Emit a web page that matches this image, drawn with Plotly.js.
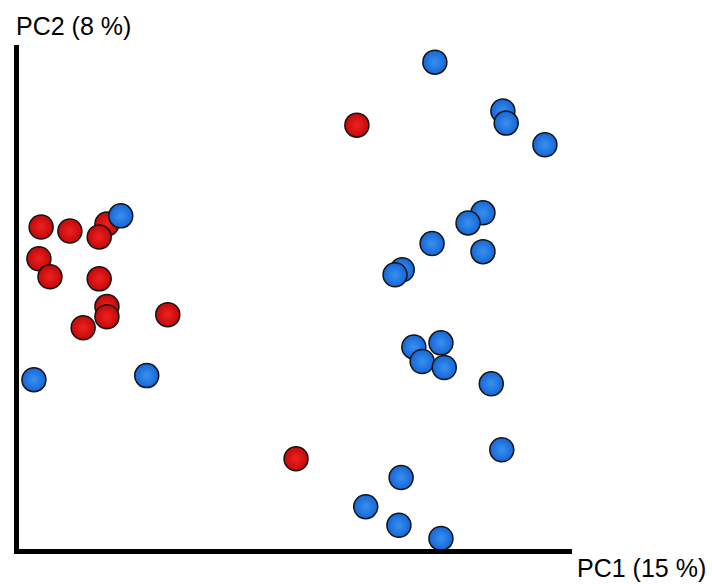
<!DOCTYPE html>
<html>
<head>
<meta charset="utf-8">
<script src="https://cdn.plot.ly/plotly-3.0.1.min.js"></script>
<style>html,body{margin:0;padding:0;background:#fff;}#chart{width:712px;height:584px;}</style>
</head>
<body>
<div id="chart"></div>
<script>
// PC scores (arbitrary units)
var redPC1 = [61.1, 4.0, 9.2, 15.9, 14.5, 3.6, 5.6, 14.5, 15.9, 15.9, 11.6, 26.9, 50.1];
var redPC2 = [84.1, 63.9, 63.1, 64.5, 61.9, 57.6, 54.0, 53.6, 48.1, 46.1, 43.9, 46.5, 17.9];

var bluePC1 = [75.2, 87.5, 88.1, 95.1, 83.9, 81.2, 74.7, 83.9, 69.3, 68.0,
               18.4, 2.7, 23.1, 71.4, 76.3, 72.9, 76.9, 85.4, 87.3, 69.1, 62.7, 68.7, 76.3];
var bluePC2 = [96.6, 86.9, 84.5, 80.2, 66.7, 64.7, 60.6, 59.0, 55.4, 54.4,
               66.1, 33.6, 34.4, 40.1, 40.9, 37.2, 36.0, 32.8, 19.7, 14.2, 8.4, 4.7, 2.1];

var axisTitleX = 'PC1 (15 %)';
var axisTitleY = 'PC2 (8 %)';

var W = 712, H = 584;
var L = 19, R = 572, T = 45, B = 549.5;

function mk(fill, center) {
  return {
    size: 24,
    color: fill,
    gradient: {type: 'radial', color: center},
    line: {color: '#141414', width: 1.5},
    opacity: 1
  };
}

var data = [
  {x: redPC1, y: redPC2, type: 'scatter', mode: 'markers', name: 'red',
   marker: mk('#c20808', '#ee2222'), hoverinfo: 'x+y'},
  {x: bluePC1, y: bluePC2, type: 'scatter', mode: 'markers', name: 'blue',
   marker: mk('#1466d6', '#3a90f0'), hoverinfo: 'x+y'}
];

var axisCommon = {
  showgrid: false, zeroline: false, showticklabels: false, ticks: '',
  showline: true, linecolor: '#000', linewidth: 5, fixedrange: true
};

var layout = {
  width: W, height: H,
  margin: {l: L, r: W - R, t: T, b: H - B, pad: 0},
  paper_bgcolor: '#fff', plot_bgcolor: '#fff',
  showlegend: false,
  xaxis: Object.assign({range: [0, 100]}, axisCommon),
  yaxis: Object.assign({range: [0, 100]}, axisCommon),
  font: {family: 'Liberation Sans, Arial, sans-serif', color: '#000', size: 25},
  annotations: [
    {text: axisTitleY, xref: 'paper', yref: 'paper',
     x: (14 - L) / (R - L), y: (B - 26) / (B - T),
     xanchor: 'left', yanchor: 'middle', showarrow: false,
     font: {size: 25, color: '#000', family: 'Liberation Sans, Arial, sans-serif'}},
    {text: axisTitleX, xref: 'paper', yref: 'paper',
     x: (575 - L) / (R - L), y: (B - 569) / (B - T),
     xanchor: 'left', yanchor: 'middle', showarrow: false,
     font: {size: 25, color: '#000', family: 'Liberation Sans, Arial, sans-serif'}}
  ]
};

Plotly.newPlot('chart', data, layout, {displayModeBar: false, staticPlot: true});
</script>
</body>
</html>
